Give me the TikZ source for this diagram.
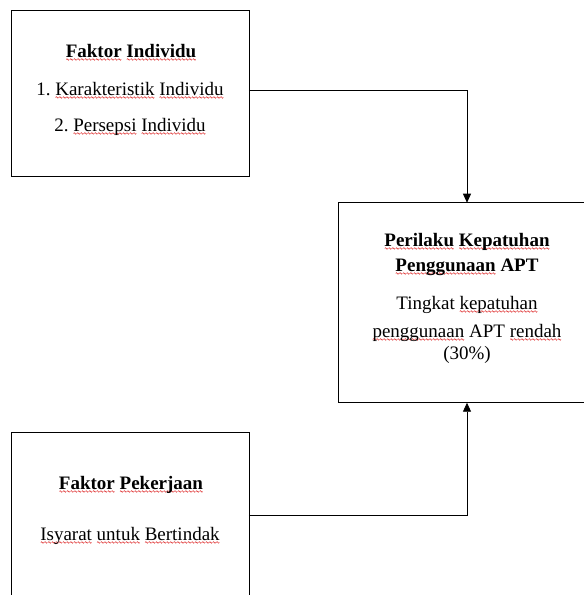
\documentclass[tikz,border=0pt]{standalone}
\usepackage{fontspec}
\setmainfont{Liberation Serif}
\usetikzlibrary{arrows.meta}
\definecolor{spellred}{RGB}{220,30,30}
\newsavebox\wavebox
\newcommand\sq[1]{\setbox0\hbox{#1}\rlap{\lower3.5pt\hbox to\wd0{\xleaders\copy\wavebox\hfil}}\box0\relax}
\frenchspacing
\begin{document}
\sbox\wavebox{\begin{pgfpicture}\pgfsetlinewidth{0.5pt}\pgfsetstrokecolor{spellred}\pgfpathmoveto{\pgfpoint{0pt}{0pt}}\pgfpathsine{\pgfpoint{0.75pt}{0.8pt}}\pgfpathcosine{\pgfpoint{0.75pt}{-0.8pt}}\pgfpathsine{\pgfpoint{0.75pt}{-0.8pt}}\pgfpathcosine{\pgfpoint{0.75pt}{0.8pt}}\pgfusepath{stroke}\end{pgfpicture}}%
\begin{tikzpicture}[x=1pt,y=-1pt,
  box/.style={draw,line width=0.8pt,inner sep=0pt,outer sep=0pt},
  txt/.style={anchor=base,inner sep=0pt,font=\fontsize{19}{22}\selectfont},
  conn/.style={line width=0.8pt,-{Triangle[length=9pt,width=8pt]}}]
\useasboundingbox (0,0) rectangle (584,595);
\clip (0,0) rectangle (584,595);
% boxes
\node[box,minimum width=237.3pt,minimum height=166pt] (ind) at (130.3,93) {};
\node[box,minimum width=258pt,minimum height=200pt] (per) at (467,302.7) {};
\node[box,minimum width=237.3pt,minimum height=166pt] (pek) at (130.3,515) {};
% texts
\node[txt] (t1) at (131,57) {\bfseries\sq{Faktor} \sq{Individu}};
\node[txt] (t2) at (130,95) {1. \sq{Karakteristik} \sq{Individu}};
\node[txt] (t3) at (130,131) {2. \sq{Persepsi} \sq{Individu}};
\node[txt] (p1) at (467,246) {\bfseries\sq{Perilaku} \sq{Kepatuhan}};
\node[txt] (p2) at (467,271) {\bfseries\sq{Penggunaan} APT};
\node[txt] (p3) at (467,309) {Tingkat \sq{kepatuhan}};
\node[txt] (p4) at (467,337) {\sq{penggunaan} APT \sq{rendah}};
\node[txt] (p5) at (467,359) {(30\%)};
\node[txt] (k1) at (131,489) {\bfseries\sq{Faktor} \sq{Pekerjaan}};
\node[txt] (k2) at (130,540) {\sq{Isyarat} \sq{untuk} \sq{Bertindak}};
% connectors
\draw[conn] ([yshift=3pt]ind.east) -| (per.north);
\draw[conn] (pek.east) -| (per.south);
\end{tikzpicture}
\end{document}
